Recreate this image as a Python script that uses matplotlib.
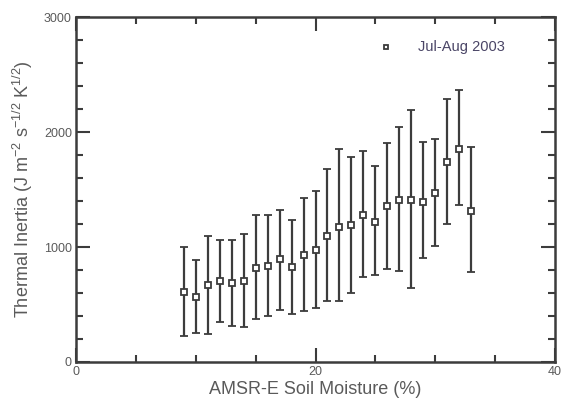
import matplotlib
matplotlib.use("Agg")
import matplotlib.pyplot as plt
from matplotlib.ticker import MultipleLocator, FixedLocator

# soil moisture bins (%)
moisture = [9, 10, 11, 12, 13, 14, 15, 16, 17, 18, 19, 20, 21,
            22, 23, 24, 25, 26, 27, 28, 29, 30, 31, 32, 33]
# mean thermal inertia per bin
ti_mean = [608, 568, 669, 703, 683, 703, 816, 839, 893, 827, 934, 977, 1092,
           1176, 1187, 1282, 1216, 1354, 1406, 1406, 1395, 1470, 1740, 1854, 1311]
# lower / upper ends of the error bars
ti_low = [222, 254, 242, 349, 317, 308, 372, 401, 455, 421, 444, 467, 530,
          530, 602, 735, 758, 810, 793, 643, 905, 1012, 1199, 1366, 781]
ti_high = [1000, 885, 1095, 1063, 1063, 1110, 1282, 1282, 1326, 1231, 1424, 1487, 1679,
           1848, 1781, 1837, 1703, 1904, 2041, 2187, 1913, 1936, 2286, 2362, 1866]

series_label = "Jul-Aug 2003"

plt.rcParams['font.family'] = ['Liberation Sans', 'DejaVu Sans']
plt.rcParams['mathtext.fontset'] = 'custom'
plt.rcParams['mathtext.rm'] = 'Liberation Sans'
plt.rcParams['mathtext.it'] = 'Liberation Sans'

dark = '#3c3c3c'
grey = '#5a5a5a'

fig = plt.figure(figsize=(5.63, 4.03), dpi=100)
ax = fig.add_axes([76 / 563, 1 - 362 / 403, 479 / 563, 345 / 403])

err_lo = [m - l for m, l in zip(ti_mean, ti_low)]
err_hi = [h - m for m, h in zip(ti_mean, ti_high)]
ax.errorbar(moisture, ti_mean, yerr=[err_lo, err_hi], fmt='s', ms=4.2,
            mfc='white', mec=dark, mew=1.3, ecolor=dark, elinewidth=1.6,
            capsize=3, capthick=1.6, zorder=3)

# legend drawn by hand like the original
ax.plot([25.9], [2735], 's', ms=3.2, mfc='white', mec=dark, mew=1.3)
ax.text(28.6, 2735, series_label, color='#4a4566', fontsize=10.5,
        va='center', ha='left')

ax.set_xlim(0, 40)
ax.set_ylim(0, 3000)
ax.xaxis.set_major_locator(FixedLocator([0, 20, 40]))
ax.xaxis.set_minor_locator(MultipleLocator(5))
ax.yaxis.set_major_locator(MultipleLocator(1000))
ax.yaxis.set_minor_locator(MultipleLocator(200))

ax.tick_params(which='both', direction='in', top=True, right=True,
               color=dark, width=1.5, labelcolor=grey, labelsize=9)
ax.tick_params(which='major', length=10, pad=3)
ax.tick_params(which='minor', length=5)
for s in ax.spines.values():
    s.set_color(dark)
    s.set_linewidth(1.8)

ax.set_xlabel('AMSR-E Soil Moisture (%)', color=grey, fontsize=13, labelpad=2)
ax.set_ylabel(r'Thermal Inertia (J m$^{-2}$ s$^{-1/2}$ K$^{1/2}$)', color=grey,
              fontsize=13)
ax.yaxis.set_label_coords(-0.085, 0.5)

fig.savefig('out.png', dpi=100)
